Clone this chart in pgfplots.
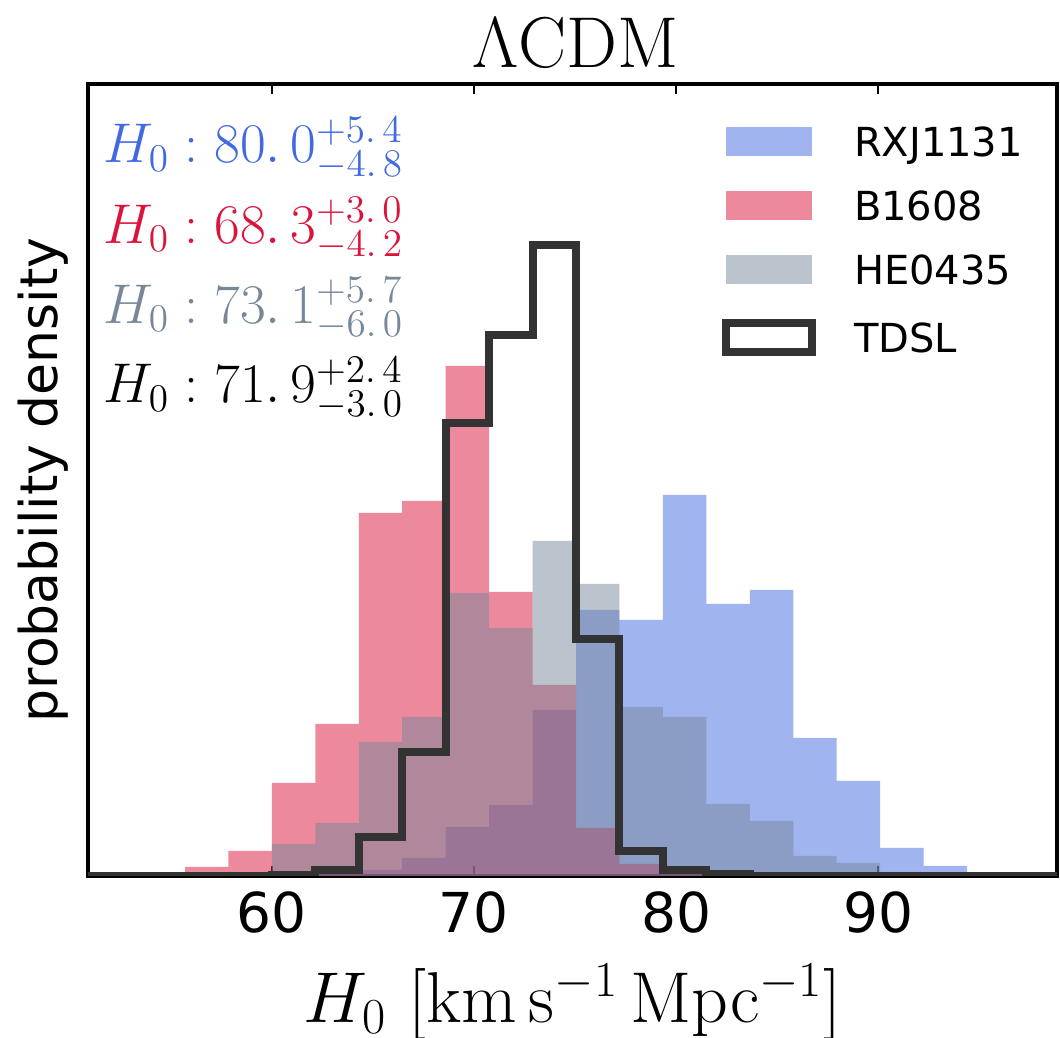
\RequirePackage{fix-cm}
\documentclass[border=0pt]{standalone}
\usepackage[no-math]{fontspec}
\newfontfamily\dejavu{DejaVu Sans}
\usepackage{pgfplots}
\pgfplotsset{compat=1.18}
\definecolor{rxj}{RGB}{65,105,225}
\definecolor{bsix}{RGB}{220,20,60}
\definecolor{heo}{RGB}{119,136,153}
\definecolor{tdsl}{RGB}{51,51,51}
\pgfplotsset{
  histleg/.style={legend image code/.code={\fill[##1] (0pt,-5.8pt) rectangle (34.4pt,5.8pt); \path (49.6pt,0pt);}},
  stepleg/.style={legend image code/.code={\draw[##1, fill=white] (0pt,-5.8pt) rectangle (34.4pt,5.8pt); \path (49.6pt,0pt);}},
}

\begin{document}
\begin{tikzpicture}
\begin{axis}[
  scale only axis, width=387.6pt, height=316.8pt,
  xmin=50.9, xmax=98.85, ymin=0, ymax=792,
  axis line style={line width=1.5pt, black},
  xtick={60,70,80,90}, xticklabels={60,70,80,90}, ytick=\empty,
  xtick pos=both, tick align=inside, major tick length=4pt,
  tick style={black, line width=0.8pt},
  xticklabel style={font=\dejavu\fontsize{22}{26}\selectfont, anchor=base, yshift=-22.8pt},
  title={$\Lambda\mathrm{CDM}$},
  title style={at={(0.503,1)}, anchor=base, yshift=0.4pt, font=\fontsize{28.8}{34}\selectfont},
  xlabel={$H_0\ [\mathrm{km\,s^{-1}\,Mpc^{-1}}]$},
  xlabel style={at={(0.5,0)}, anchor=base, yshift=-58.8pt, font=\fontsize{28.8}{34}\selectfont},
  ylabel={probability density},
  ylabel style={at={(-0.031,0.5)}, anchor=base, font=\dejavu\fontsize{20.8}{24}\selectfont},
  legend cell align=left,
  legend style={at={(0.6543,0.9457)}, anchor=north west, draw=none, fill=none,
    inner sep=0pt, outer sep=0pt, row sep=13.9pt,
    font=\dejavu\fontsize{16}{19}\selectfont,
    nodes={inner sep=0pt, text height=11.7pt, text depth=0pt}},
]
% RXJ1131
\addplot[ybar interval, fill=rxj, fill opacity=0.5, draw=none, histleg]
  coordinates {(62.15,2) (64.30,6) (66.45,18) (68.60,49) (70.75,71) (72.90,166)
    (75.05,266) (77.20,256) (79.35,381) (81.50,272) (83.65,286) (85.80,138)
    (87.95,95) (90.10,28) (92.25,10) (94.40,0)};
\addlegendentry{RXJ1131}
% B1608
\addplot[ybar interval, fill=bsix, fill opacity=0.5, draw=none, histleg]
  coordinates {(55.70,9) (57.85,25) (60.00,93) (62.15,152) (64.30,363) (66.45,375)
    (68.60,510) (70.75,284) (72.90,191) (75.05,48) (77.20,12) (79.35,3) (81.50,0)};
\addlegendentry{B1608}
% HE0435
\addplot[ybar interval, fill=heo, fill opacity=0.5, draw=none, histleg]
  coordinates {(57.85,4) (60.00,32) (62.15,53) (64.30,134) (66.45,159) (68.60,283)
    (70.75,248) (72.90,335) (75.05,292) (77.20,169) (79.35,159) (81.50,72)
    (83.65,55) (85.80,20) (87.95,13) (90.10,4) (92.25,0)};
\addlegendentry{HE0435}
% TDSL
\addplot[const plot, draw=tdsl, line width=3.2pt, line join=miter, stepleg]
  coordinates {(50,0) (60.00,1) (62.15,6) (64.30,39) (66.45,124) (68.60,453)
    (70.75,541) (72.90,631) (75.05,237) (77.20,25) (79.35,6) (81.50,2) (83.65,0) (100,0)};
\addlegendentry{TDSL}

\node[anchor=base west, inner sep=0pt, text=rxj, font=\fontsize{22.4}{26}\selectfont]
  at (axis description cs:0.0155,0.9003) {$H_0: 80.\,0^{+5.\,4}_{-4.\,8}$};
\node[anchor=base west, inner sep=0pt, text=bsix, font=\fontsize{22.4}{26}\selectfont]
  at (axis description cs:0.0155,0.7992) {$H_0: 68.\,3^{+3.\,0}_{-4.\,2}$};
\node[anchor=base west, inner sep=0pt, text=heo, font=\fontsize{22.4}{26}\selectfont]
  at (axis description cs:0.0155,0.6982) {$H_0: 73.\,1^{+5.\,7}_{-6.\,0}$};
\node[anchor=base west, inner sep=0pt, text=black, font=\fontsize{22.4}{26}\selectfont]
  at (axis description cs:0.0155,0.5972) {$H_0: 71.\,9^{+2.\,4}_{-3.\,0}$};

\coordinate (bl) at (rel axis cs:0,0);
\coordinate (tr) at (rel axis cs:1,1);
\end{axis}
\pgfresetboundingbox
\path[use as bounding box] ([shift={(-35.2pt,-64.8pt)}]bl) rectangle ([shift={(1.2pt,33.6pt)}]tr);
\end{tikzpicture}
\end{document}
